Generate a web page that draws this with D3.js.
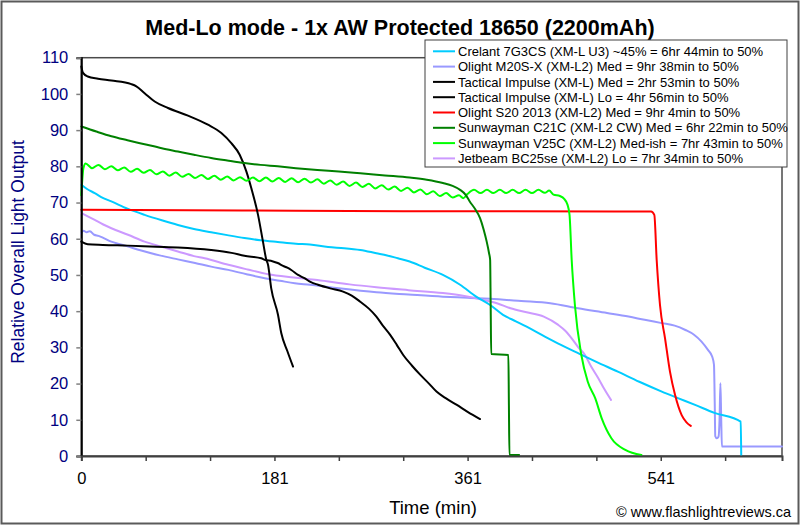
<!DOCTYPE html>
<html>
<head>
<meta charset="utf-8">
<script src="https://cdn.jsdelivr.net/npm/d3@7/dist/d3.min.js"></script>
<style>
  html, body { margin: 0; padding: 0; background: #fff; }
  svg { display: block; }
  text { font-family: Arial, "Liberation Sans", sans-serif; }
</style>
</head>
<body>
<svg id="chart" width="800" height="525"></svg>
<script>
// ---------------- DATA ----------------
const chartTitle = "Med-Lo mode - 1x AW Protected 18650 (2200mAh)";
const yTitle = "Relative Overall Light Output";
const xTitle = "Time (min)";
const credit = "© www.flashlightreviews.ca";

const yTickValues = [0, 10, 20, 30, 40, 50, 60, 70, 80, 90, 100, 110];
const xTickValues = [0, 60, 120, 180, 240, 300, 360, 420, 480, 540, 600];
const xTickLabels = ["0", "", "", "181", "", "", "361", "", "", "541", ""];

const seriesNames = [
  "Crelant 7G3CS (XM-L U3) ~45% = 6hr 44min to 50%",
  "Olight M20S-X (XM-L2) Med = 9hr 38min to 50%",
  "Tactical Impulse (XM-L) Med = 2hr 53min to 50%",
  "Tactical Impulse (XM-L) Lo = 4hr 56min to 50%",
  "Olight S20 2013 (XM-L2) Med = 9hr 4min to 50%",
  "Sunwayman C21C (XM-L2 CW) Med = 6hr 22min to 50%",
  "Sunwayman V25C (XM-L2) Med-ish = 7hr 43min to 50%",
  "Jetbeam BC25se (XM-L2) Lo = 7hr 34min to 50%"
];
const seriesColors = ["#00CCFF", "#9999FF", "#000000", "#000000", "#FF0000", "#008000", "#00FF00", "#CC99FF"];

// [time (min), relative output]
const crelant = [[0,74.9],[5,73.8],[12.5,72.6],[20,71.3],[28,70.3],[43,68.3],[59,66.6],[75,65.1],[90,63.8],[105,62.7],[121,61.8],[136,61.0],[152,60.2],[167,59.6],[183,59.1],[200,58.6],[213,58.4],[230,57.7],[245,57.4],[260,56.9],[275,56.0],[285,55.4],[295,54.6],[306,53.7],[320,52.0],[337,50.0],[353,47.3],[368,44.0],[381,41.7],[393,39.0],[405,37.2],[415,35.7],[432,33.0],[447,30.7],[463,28.4],[480,26.0],[500,23.3],[520,20.5],[541,17.8],[556,16.0],[572,14.1],[590,11.9],[614.5,9.5],[615,0.3]];

const m20sx = [[0,61.5],[2,62.2],[5,61.8],[8,62.1],[12,61.1],[16,60.8],[20,60.3],[28,59.2],[36,58.5],[43,57.9],[55,56.8],[73,55.4],[90,54.3],[106,53.3],[121,52.3],[137,51.4],[154,50.2],[171,49.1],[185,48.4],[199,47.7],[213,47.3],[240,46.3],[275,45.2],[305,44.6],[337,44.0],[360,43.7],[381,43.4],[410,42.8],[437,42.2],[463,40.8],[490,39.5],[510,38.5],[525,37.6],[541,36.7],[553,36.0],[563,34.8],[571,33.5],[578,31.6],[584,29.3],[588,27.4],[589.6,25.2],[590.3,15],[590.8,5.5],[592.3,4.9],[593.8,5.3],[594.8,10],[595.6,20.1],[596.3,11],[597,2.6],[653,2.6]];

const tiMed = [[0,107.6],[1.6,105.8],[6,104.8],[15.6,104.2],[28,103.7],[46.6,102.7],[51.3,102.1],[59,100.2],[68.4,97.9],[80.8,96.1],[99.4,94.0],[118,91.5],[130.5,89.2],[139.8,86.4],[147.6,83.2],[153.8,78.6],[158.4,74.0],[164.7,66.6],[169.3,59.2],[172.4,54.2],[174,52.8],[177,46.3],[183.3,39],[186.4,33.9],[192,29],[197.3,24.7]];

const tiLo = [[0,59.2],[6,58.5],[20,58.3],[43.5,58.1],[70,57.8],[90,57.6],[121,56.9],[140,56.1],[152,55.3],[167.7,54.6],[171,54.2],[178,53.8],[183,53.3],[188,52.5],[192,52.0],[196,51.3],[202,50.0],[208,49.1],[214,48.0],[220.6,47.3],[232,46.3],[244,45.4],[252,44.3],[260,42.6],[268,40.7],[275,38.5],[281,36.0],[288,33.4],[294,30.7],[300,27.9],[308,25.0],[316,22.4],[324,20.0],[331,17.8],[340,15.9],[350,14.1],[360,12.2],[371.6,10.2]];

const s20 = [[0,68.0],[100,67.9],[200,67.7],[300,67.6],[400,67.6],[531,67.5],[534,66.6],[536.2,54.2],[539.3,41.7],[544,32.5],[548.6,23.3],[553.3,16.9],[559.5,11.3],[564,9.3],[568,8.3]];

const c21c = [[0,91.0],[14,89.6],[28,88.3],[43,87.2],[59,86.1],[75,85.0],[90,84.1],[105,83.2],[121,82.3],[136,81.6],[152,80.9],[167,80.4],[183,80.0],[200,79.5],[220,79.0],[240,78.6],[260,78.1],[283,77.5],[306,76.9],[322,76.3],[337,75.4],[346,74.6],[353,73.5],[358,72.2],[362,70.3],[367,68.2],[371.6,65.7],[375,62.5],[377.8,59.2],[380,56.0],[381,54.2],[381.5,41.7],[382,28.2],[398,27.9],[398.5,14],[399,0.3],[408,0.3]];

const v25c = [[0,72.0],[2,79.5],[4,80.8],[10,79.5],[16,80.4],[22,79.2],[28,80.0],[34,78.9],[40,79.7],[46,78.5],[52,79.3],[58,78.2],[64,79.0],[70,77.8],[76,78.6],[82,77.4],[88,78.3],[94,77.1],[100,77.9],[106,76.8],[112,77.6],[118,76.5],[124,77.4],[130,76.3],[136,77.2],[142,76.1],[148,77.0],[154,76.0],[160,76.9],[166,75.9],[172,76.9],[178,75.8],[184,76.8],[190,75.7],[196,76.7],[202,75.6],[208,76.6],[214,75.5],[220,76.4],[226,75.2],[232,76.1],[238,74.9],[244,75.8],[250,74.6],[256,75.5],[262,74.3],[268,75.2],[274,73.9],[280,74.8],[286,73.6],[292,74.4],[298,73.2],[304,74.1],[310,72.8],[316,73.6],[322,72.3],[328,73.1],[334,71.8],[340,72.6],[346,71.4],[352,72.0],[356,71.2],[360,72.4],[366,73.5],[372,72.6],[378,73.5],[384,72.6],[390,73.5],[396,72.6],[402,73.5],[408,72.6],[414,73.5],[420,72.6],[426,73.5],[432,72.7],[436,73.3],[440,72.2],[446,71.8],[450,71.0],[453,69.5],[455,66.6],[457,54.2],[460,41.7],[466,27.9],[472,20.5],[479,15.9],[485,10.4],[494,4.9],[507,1.7],[522,0.3]];

const bc25se = [[0,67.1],[6,66.2],[12.5,65.2],[20,64.0],[28,62.9],[43.5,61.1],[59,59.2],[75,57.8],[90,56.5],[105,55.2],[115,54.6],[137,52.8],[155,51.5],[174,50.2],[198,49.3],[220,48.6],[250,47.4],[275,46.6],[305,45.8],[337,45.0],[357,44.2],[375,43.1],[388,42.1],[400,40.8],[415,39.7],[431,38.5],[444.5,36.2],[451,34.6],[457,32.5],[463,30.1],[469.4,27.9],[475,24.8],[481.8,21.5],[487,18.7],[493.6,15.5]];

const seriesData = [crelant, m20sx, tiMed, tiLo, s20, c21c, v25c, bc25se];
// draw order (back to front)
const drawOrder = [1, 7, 0, 4, 3, 2, 6, 5];

// ---------------- LAYOUT ----------------
const svg = d3.select("#chart");
const W = 800, H = 525;
const plot = { left: 81.3, right: 782, top: 57.7, bottom: 456 };

svg.append("rect").attr("x", 0).attr("y", 0).attr("width", W).attr("height", H).attr("fill", "#fff");
svg.append("rect").attr("x", 1.5).attr("y", 1.5).attr("width", W - 3).attr("height", H - 3)
  .attr("fill", "none").attr("stroke", "#5a5a5a").attr("stroke-width", 2);

const x = d3.scaleLinear().domain([0, 653]).range([plot.left, plot.right]);
const y = d3.scaleLinear().domain([0, 110]).range([plot.bottom, plot.top]);

// plot frame (top/right)
svg.append("rect").attr("x", plot.left).attr("y", plot.top)
  .attr("width", plot.right - plot.left).attr("height", plot.bottom - plot.top)
  .attr("fill", "#fff").attr("stroke", "#4a4a4a").attr("stroke-width", 1.5);

// lines
const line = d3.line().x(d => x(d[0])).y(d => y(d[1])).curve(d3.curveMonotoneX);
const gLines = svg.append("g");
drawOrder.forEach(i => {
  gLines.append("path").datum(seriesData[i])
    .attr("fill", "none").attr("stroke", seriesColors[i])
    .attr("stroke-width", 2).attr("stroke-linejoin", "round").attr("stroke-linecap", "round")
    .attr("d", line);
});

// y axis
const yAxis = d3.axisLeft(y).tickValues(yTickValues).tickSize(5).tickPadding(8);
const gy = svg.append("g").attr("transform", `translate(${plot.left},0)`).call(yAxis);
gy.select(".domain").attr("stroke", "#000").attr("stroke-width", 2);
gy.selectAll(".tick line").attr("stroke", "#808080").attr("stroke-width", 1.5);
gy.selectAll(".tick text").attr("fill", "#000080").style("font-size", "16.5px")
  .style("font-family", "Arial, 'Liberation Sans', sans-serif");

// x axis
const xAxis = d3.axisBottom(x).tickValues(xTickValues).tickSize(5).tickPadding(11)
  .tickFormat((d, i) => xTickLabels[i]);
const gx = svg.append("g").attr("transform", `translate(0,${plot.bottom})`).call(xAxis);
gx.select(".domain").attr("stroke", "#404040").attr("stroke-width", 2);
gx.selectAll(".tick line").attr("stroke", "#404040").attr("stroke-width", 1.5);
gx.selectAll(".tick text").attr("fill", "#000").style("font-size", "16.5px")
  .style("font-family", "Arial, 'Liberation Sans', sans-serif");

// titles
svg.append("text").attr("x", 400).attr("y", 35).attr("text-anchor", "middle")
  .style("font-size", "21.5px").style("font-weight", "bold").text(chartTitle);
svg.append("text").attr("transform", "translate(24,252) rotate(-90)").attr("text-anchor", "middle")
  .attr("fill", "#000080").style("font-size", "17.5px").text(yTitle);
svg.append("text").attr("x", 433).attr("y", 514).attr("text-anchor", "middle")
  .style("font-size", "18.5px").text(xTitle);
svg.append("text").attr("x", 791).attr("y", 517).attr("text-anchor", "end")
  .style("font-size", "14.5px").text(credit);

// legend
const leg = { x: 425, y: 40, w: 362, h: 127 };
svg.append("rect").attr("x", leg.x).attr("y", leg.y).attr("width", leg.w).attr("height", leg.h)
  .attr("fill", "#fff").attr("stroke", "#404040").attr("stroke-width", 1);
seriesNames.forEach((name, i) => {
  const cy = 51.3 + i * 15.3;
  svg.append("line").attr("x1", 433).attr("x2", 455).attr("y1", cy).attr("y2", cy)
    .attr("stroke", seriesColors[i]).attr("stroke-width", 2);
  svg.append("text").attr("x", 458).attr("y", cy).attr("dy", "0.36em")
    .style("font-size", "13px").text(name);
});
</script>
</body>
</html>
